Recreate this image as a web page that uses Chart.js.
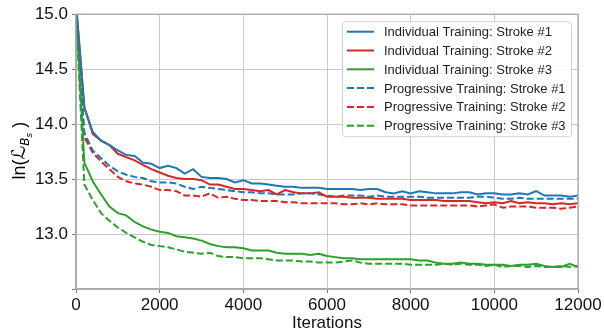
<!DOCTYPE html>
<html>
<head>
<meta charset="utf-8">
<script src="https://cdn.jsdelivr.net/npm/chart.js@4/dist/chart.umd.min.js"></script>
<style>
    html, body { margin: 0; padding: 0; background: #fff; }
    #wrap { width: 604px; height: 334px; }
</style>
</head>
<body>
<div id="wrap"><canvas id="lossChart"></canvas></div>
<script>
// Training iterations (every 200)
const iterations = [
    0, 200, 400, 600, 800, 1000, 1200, 1400, 1600, 1800,
    2000, 2200, 2400, 2600, 2800, 3000, 3200, 3400, 3600, 3800,
    4000, 4200, 4400, 4600, 4800, 5000, 5200, 5400, 5600, 5800,
    6000, 6200, 6400, 6600, 6800, 7000, 7200, 7400, 7600, 7800,
    8000, 8200, 8400, 8600, 8800, 9000, 9200, 9400, 9600, 9800,
    10000, 10200, 10400, 10600, 10800, 11000, 11200, 11400, 11600, 11800,
    12000
];

// Individual training
const indivStroke1 = [
    15.1, 14.15, 13.93, 13.85, 13.81, 13.76, 13.72, 13.71, 13.65, 13.64,
    13.60, 13.62, 13.60, 13.55, 13.59, 13.52, 13.51, 13.51, 13.50, 13.47,
    13.49, 13.46, 13.46, 13.45, 13.44, 13.43, 13.43, 13.42, 13.42, 13.42,
    13.41, 13.41, 13.41, 13.41, 13.40, 13.41, 13.41, 13.38, 13.37, 13.39,
    13.37, 13.39, 13.38, 13.37, 13.37, 13.37, 13.38, 13.38, 13.36, 13.37,
    13.37, 13.36, 13.36, 13.37, 13.36, 13.39, 13.35, 13.35, 13.35, 13.34,
    13.35
];
const indivStroke2 = [
    15.1, 14.15, 13.91, 13.85, 13.81, 13.73, 13.70, 13.67, 13.63, 13.59,
    13.56, 13.53, 13.51, 13.50, 13.50, 13.49, 13.45, 13.45, 13.43, 13.41,
    13.41, 13.40, 13.39, 13.40, 13.36, 13.40, 13.38, 13.37, 13.37, 13.38,
    13.34, 13.34, 13.34, 13.33, 13.33, 13.33, 13.32, 13.32, 13.32, 13.32,
    13.31, 13.31, 13.31, 13.31, 13.30, 13.30, 13.30, 13.30, 13.29, 13.28,
    13.29, 13.28, 13.30, 13.28, 13.29, 13.28, 13.28, 13.27, 13.28, 13.27,
    13.28
];
const indivStroke3 = [
    15.05, 13.65, 13.48, 13.36, 13.25, 13.19, 13.17, 13.11, 13.07, 13.04,
    13.02, 13.01, 12.98, 12.97, 12.96, 12.94, 12.91, 12.89, 12.88, 12.88,
    12.87, 12.85, 12.85, 12.85, 12.83, 12.82, 12.82, 12.82, 12.81, 12.82,
    12.80, 12.79, 12.78, 12.78, 12.77, 12.77, 12.77, 12.77, 12.77, 12.77,
    12.77, 12.76, 12.76, 12.74, 12.73, 12.73, 12.74, 12.73, 12.73, 12.72,
    12.72, 12.72, 12.71, 12.72, 12.72, 12.73, 12.71, 12.70, 12.70, 12.73,
    12.70
];

// Progressive training
const progStroke1 = [
    15.05, 13.92, 13.76, 13.69, 13.62, 13.57, 13.54, 13.52, 13.51, 13.48,
    13.47, 13.47, 13.46, 13.43, 13.41, 13.43, 13.42, 13.41, 13.40, 13.39,
    13.38, 13.38, 13.37, 13.37, 13.36, 13.36, 13.36, 13.37, 13.37, 13.36,
    13.35, 13.34, 13.35, 13.35, 13.35, 13.34, 13.35, 13.34, 13.34, 13.34,
    13.34, 13.34, 13.33, 13.33, 13.33, 13.33, 13.33, 13.33, 13.34, 13.34,
    13.33, 13.32, 13.32, 13.33, 13.32, 13.32, 13.32, 13.32, 13.32, 13.32,
    13.32
];
const progStroke2 = [
    15.05, 13.88, 13.74, 13.66, 13.59, 13.52, 13.48, 13.46, 13.45, 13.43,
    13.40, 13.40, 13.39, 13.35, 13.35, 13.34, 13.37, 13.33, 13.34, 13.32,
    13.31, 13.31, 13.30, 13.30, 13.30, 13.29, 13.29, 13.28, 13.28, 13.28,
    13.28, 13.28, 13.27, 13.27, 13.28, 13.27, 13.28, 13.27, 13.27, 13.27,
    13.26, 13.26, 13.26, 13.26, 13.26, 13.26, 13.26, 13.26, 13.25, 13.26,
    13.27, 13.24, 13.25, 13.25, 13.25, 13.24, 13.24, 13.24, 13.23, 13.24,
    13.25
];
const progStroke3 = [
    15.0, 13.45, 13.31, 13.19, 13.12, 13.06, 13.01, 12.97, 12.93, 12.90,
    12.89, 12.88, 12.86, 12.84, 12.83, 12.82, 12.83, 12.80, 12.79, 12.79,
    12.78, 12.78, 12.78, 12.77, 12.76, 12.76, 12.76, 12.75, 12.75, 12.74,
    12.74, 12.74, 12.75, 12.76, 12.74, 12.73, 12.73, 12.73, 12.73, 12.73,
    12.72, 12.72, 12.72, 12.72, 12.73, 12.72, 12.73, 12.72, 12.72, 12.71,
    12.72, 12.70, 12.71, 12.71, 12.70, 12.71, 12.70, 12.70, 12.71, 12.70,
    12.71
];

const seriesLabels = [
    'Individual Training: Stroke #1',
    'Individual Training: Stroke #2',
    'Individual Training: Stroke #3',
    'Progressive Training: Stroke #1',
    'Progressive Training: Stroke #2',
    'Progressive Training: Stroke #3'
];
const yTicks = [12.5, 13.0, 13.5, 14.0, 14.5, 15.0];

const BLUE = '#1f77b4';
const RED = '#d62728';
const GREEN = '#2ca02c';
const FONT = "'Liberation Sans', Arial, sans-serif";

function toPoints(values) {
    return values.map((v, i) => ({ x: iterations[i], y: v }));
}

function makeDataset(label, values, color, dashed) {
    return {
        label: label,
        data: toPoints(values),
        borderColor: color,
        backgroundColor: color,
        borderWidth: 2,
        borderDash: dashed ? [7, 3] : [],
        pointRadius: 0,
        tension: 0,
        fill: false
    };
}

// frame around the plot + y title with subscripts + legend box
const decorPlugin = {
    id: 'decor',
    afterDraw(chart) {
        const ctx = chart.ctx;
        const a = chart.chartArea;

        // top & right spines
        ctx.save();
        ctx.strokeStyle = '#a8a8a8';
        ctx.lineWidth = 1.3;
        ctx.strokeRect(a.left, a.top, a.right - a.left, a.bottom - a.top);
        ctx.restore();

        // y axis title: ln(L_{B_s})
        ctx.save();
        ctx.translate(19, (a.top + a.bottom) / 2 - 1);
        ctx.rotate(-Math.PI / 2);
        ctx.fillStyle = '#000';
        ctx.textBaseline = 'alphabetic';
        const parts = [
            { t: 'ln(', f: '18px ' + FONT, dy: 0 },
            { t: '\u2112', f: '19px "DejaVu Sans"', dy: 0 },
            { t: 'B', f: 'italic 12px "DejaVu Sans"', dy: 4 },
            { t: 's', f: 'italic 9px "DejaVu Sans"', dy: 7 },
            { t: ' )', f: '18px ' + FONT, dy: 0 }
        ];
        let total = 0;
        parts.forEach(p => { ctx.font = p.f; p.w = ctx.measureText(p.t).width; total += p.w; });
        let x = -total / 2;
        parts.forEach(p => {
            ctx.font = p.f;
            ctx.fillText(p.t, x, 6 + p.dy);
            x += p.w;
        });
        ctx.restore();

        // legend
        const boxR = a.right - 7;
        const boxL = boxR - 229;
        const boxT = a.top + 7;
        const boxH = 115;
        ctx.save();
        ctx.fillStyle = 'rgba(255,255,255,0.85)';
        ctx.strokeStyle = '#d0d0d0';
        ctx.lineWidth = 1;
        ctx.beginPath();
        ctx.roundRect(boxL + 0.5, boxT + 0.5, boxR - boxL, boxH, 3);
        ctx.fill();
        ctx.stroke();
        ctx.font = '13px ' + FONT;
        ctx.textBaseline = 'middle';
        chart.data.datasets.forEach((ds, i) => {
            const y = boxT + 10.5 + i * 18.8;
            ctx.strokeStyle = ds.borderColor;
            ctx.lineWidth = 2;
            ctx.setLineDash(ds.borderDash);
            ctx.beginPath();
            ctx.moveTo(boxL + 5, y);
            ctx.lineTo(boxL + 32, y);
            ctx.stroke();
            ctx.setLineDash([]);
            ctx.fillStyle = '#222';
            ctx.fillText(ds.label, boxL + 42, y + 1);
        });
        ctx.restore();
    }
};

const ctx = document.getElementById('lossChart').getContext('2d');
new Chart(ctx, {
    type: 'line',
    data: {
        datasets: [
            makeDataset(seriesLabels[0], indivStroke1, BLUE, false),
            makeDataset(seriesLabels[1], indivStroke2, RED, false),
            makeDataset(seriesLabels[2], indivStroke3, GREEN, false),
            makeDataset(seriesLabels[3], progStroke1, BLUE, true),
            makeDataset(seriesLabels[4], progStroke2, RED, true),
            makeDataset(seriesLabels[5], progStroke3, GREEN, true)
        ]
    },
    options: {
        responsive: true,
        maintainAspectRatio: false,
        animation: false,
        layout: { padding: { left: 0, top: 11, right: 26, bottom: 0 } },
        plugins: {
            legend: { display: false },
            tooltip: { enabled: false }
        },
        scales: {
            x: {
                type: 'linear',
                min: 0,
                max: 12000,
                afterFit: s => { s.height = 45; },
                ticks: {
                    stepSize: 2000,
                    color: '#111',
                    font: { family: FONT, size: 17 },
                    padding: 2,
                    maxRotation: 0,
                    callback: v => String(v)
                },
                grid: { color: '#c8c8c8', lineWidth: 1, tickLength: 4, tickColor: '#777' },
                border: { color: '#a8a8a8', width: 1.3 },
                title: {
                    display: true,
                    text: 'Iterations',
                    color: '#111',
                    font: { family: FONT, size: 17 },
                    padding: { top: 4, bottom: 0 }
                }
            },
            y: {
                type: 'linear',
                min: 12.5,
                max: 15.0,
                afterFit: s => { s.width = 76; },
                afterBuildTicks: s => { s.ticks = yTicks.map(v => ({ value: v })); },
                ticks: {
                    color: '#111',
                    font: { family: FONT, size: 17 },
                    padding: 4,
                    callback: v => (v === 12.5 ? '' : Number(v).toFixed(1))
                },
                grid: { color: '#c8c8c8', lineWidth: 1, tickLength: 4, tickColor: '#777' },
                border: { color: '#a8a8a8', width: 1.3 }
            }
        }
    },
    plugins: [decorPlugin]
});
</script>
</body>
</html>
